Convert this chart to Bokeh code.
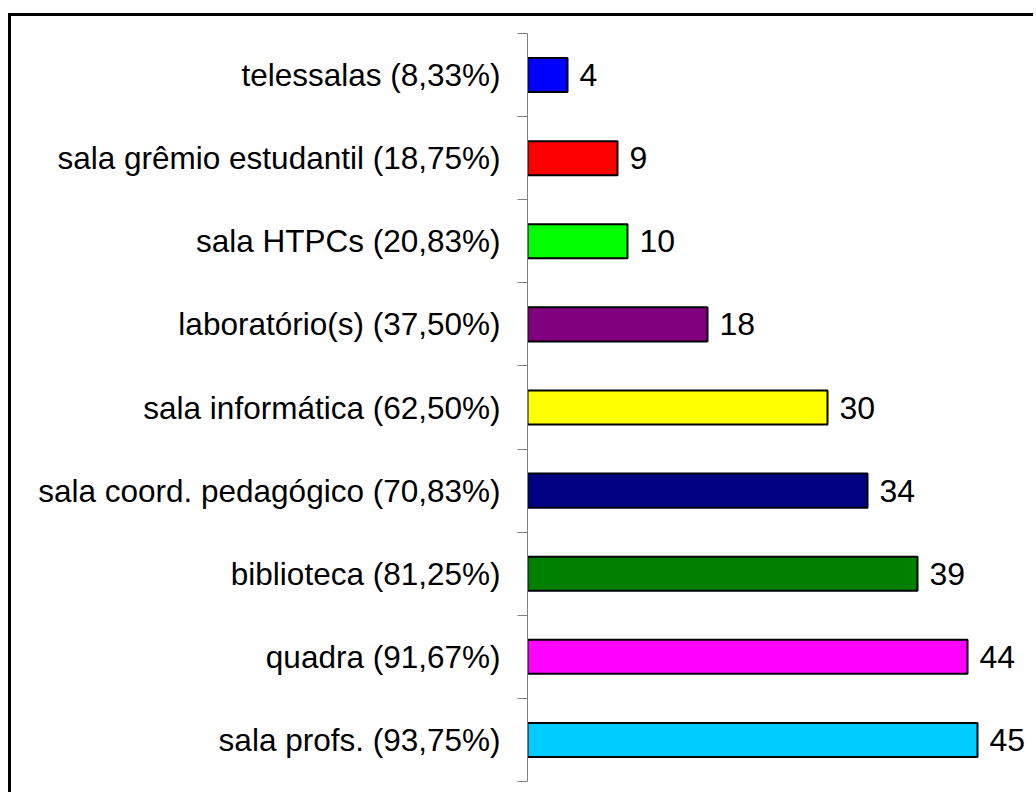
from bokeh.plotting import figure
from bokeh.models import Range1d, FixedTicker, ColumnDataSource
from bokeh.core.properties import value
from bokeh.embed import file_html
from bokeh.resources import INLINE

# Data (top to bottom as in the chart)
categories = [
    "telessalas (8,33%)",
    "sala grêmio estudantil (18,75%)",
    "sala HTPCs (20,83%)",
    "laboratório(s) (37,50%)",
    "sala informática (62,50%)",
    "sala coord. pedagógico (70,83%)",
    "biblioteca (81,25%)",
    "quadra (91,67%)",
    "sala profs. (93,75%)",
]
counts = [4, 9, 10, 18, 30, 34, 39, 44, 45]
colors = ["#0000FF", "#FF0000", "#00FF00", "#800080", "#FFFF00",
          "#000080", "#008000", "#FF00FF", "#00CCFF"]

n = len(categories)
# position from bottom: last category at bottom
ypos = [n - 1 - i + 0.5 for i in range(n)]

src = ColumnDataSource(dict(y=ypos, v=counts, c=colors,
                            t=[str(v) for v in counts]))

p = figure(width=1025, height=779, output_backend="svg", toolbar_location=None,
           x_range=Range1d(0, 50.8), y_range=Range1d(0, n),
           min_border_left=516, min_border_top=17, min_border_bottom=14,
           min_border_right=1)
p.styles = {"border-top": "3px solid black", "border-left": "3px solid black",
            "margin-top": "13px", "margin-left": "8px"}

p.hbar(y="y", left=0, right="v", height=0.41, fill_color="c",
       line_color="black", line_width=2, source=src)
p.text(x="v", y="y", text="t", x_offset=12, text_baseline="middle",
       text_align="left", text_font=value("Liberation Sans"),
       text_font_size="32px", text_color="black", source=src)

p.xaxis.visible = False
p.xgrid.visible = False
p.ygrid.visible = False
p.outline_line_color = None
p.background_fill_color = "white"
p.border_fill_color = "white"

ax = p.yaxis[0]
ax.ticker = FixedTicker(ticks=ypos, minor_ticks=list(range(n + 1)))
ax.major_label_overrides = {y: c for y, c in zip(ypos, categories)}
ax.major_tick_out = 0
ax.major_tick_in = 0
ax.minor_tick_out = 10
ax.minor_tick_in = 0
ax.minor_tick_line_color = "#808080"
ax.axis_line_color = "#808080"
ax.axis_line_width = 1
ax.major_label_standoff = 17
ax.major_label_text_font = "Liberation Sans"
ax.major_label_text_font_size = "31.5px"
ax.major_label_text_color = "black"

open("out.html", "w").write(file_html(p, INLINE))
